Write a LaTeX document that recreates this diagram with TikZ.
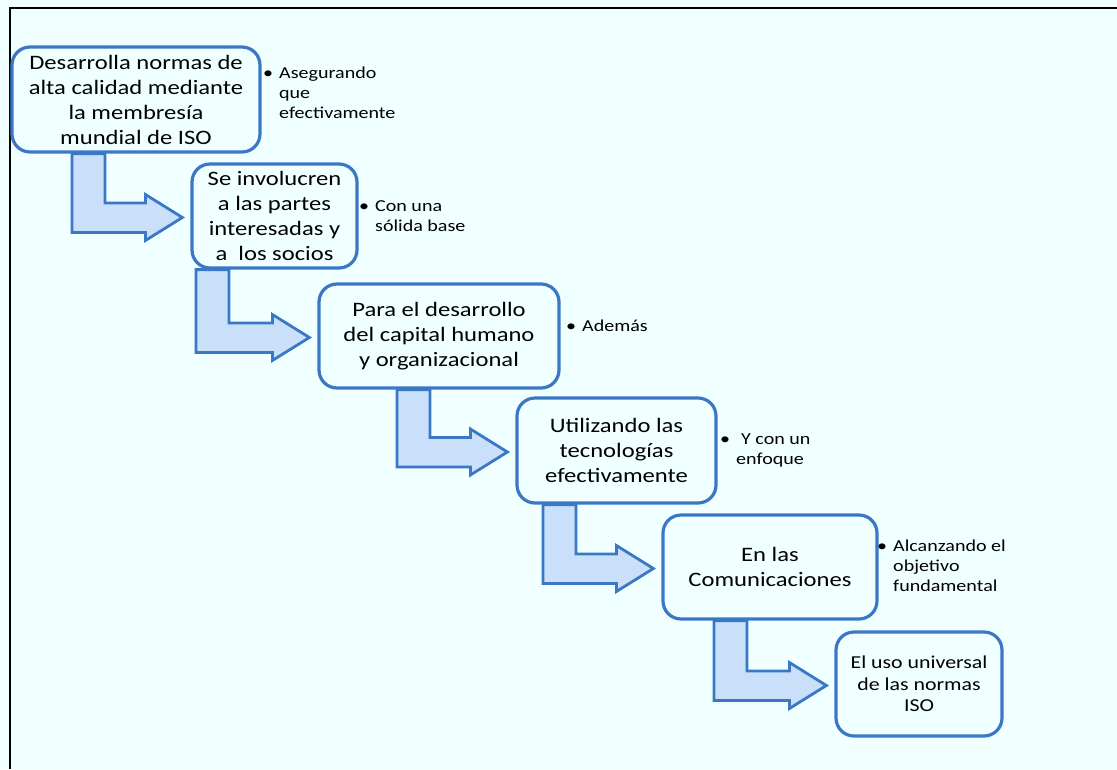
\documentclass[tikz,border=0pt]{standalone}
\usepackage{fontspec}
\setmainfont{Carlito}[FakeStretch=1.2]
\usetikzlibrary{backgrounds, calc}
\definecolor{CBack}{HTML}{F0FFFF}
\definecolor{CBlue}{HTML}{3A78C6}
\definecolor{CLight}{HTML}{C9DFFA}

\begin{document}
\begin{tikzpicture}[x=1pt, y=-1pt,
    background rectangle/.style={fill=CBack}, show background rectangle, inner frame sep=0pt,
    stepbox/.style={draw=CBlue, line width=3.2pt, fill=CBack, rounded corners=18pt, align=center,
        font=\fontsize{20.5}{25}\selectfont},
    note/.style={anchor=west, align=left, inner sep=0pt, font=\fontsize{16.7}{20}\selectfont},
    bent/.style={draw=CBlue, fill=CLight, line width=2.8pt, line join=miter}]
    \useasboundingbox (0,0) rectangle (1117,769);
    \draw[line width=2.4pt] (1117,8) -- (10,8) -- (10,769);

    % Steps
    \node[stepbox, minimum width=248pt, minimum height=105pt] (b1) at (136,99.5)
        {Desarrolla normas de\\alta calidad mediante\\la membresía\\mundial de ISO};
    \node[stepbox, minimum width=165pt, minimum height=104pt] (b2) at (274.5,216)
        {Se involucren\\a las partes\\interesadas y\\a\ \ los socios};
    \node[stepbox, minimum width=240pt, minimum height=104pt] (b3) at (439,336)
        {Para el desarrollo\\del capital humano\\y organizacional};
    \node[stepbox, minimum width=199pt, minimum height=105pt] (b4) at (616.5,450.5)
        {Utilizando las\\tecnologías\\efectivamente};
    \node[stepbox, minimum width=214pt, minimum height=104pt] (b5) at (770,567)
        {En las\\Comunicaciones};
    \node[stepbox, minimum width=166pt, minimum height=104pt, font=\fontsize{18.2}{21.5}\selectfont]
        (b6) at (919,684) {El uso universal\\de las normas\\ISO};

    % Notes
    \node[note] (n1) at (279,93) {\llap{\textbullet\hspace{6pt}}Asegurando\\que\\efectivamente};
    \node[note] (n2) at (375,216.5) {\llap{\textbullet\hspace{6pt}}Con una\\sólida base};
    \node[note] (n3) at (582,326) {\llap{\textbullet\hspace{6pt}}Además};
    \node[note] (n4) at (736,450.5) {\llap{\textbullet\hspace{6pt}}\hspace{5pt}Y con un\\enfoque};
    \node[note] (n5) at (893,566) {\llap{\textbullet\hspace{6pt}}Alcanzando el\\objetivo\\fundamental};

    % Bent arrows
    \foreach \a/\b/\sx in {b1/b2/72, b2/b3/196, b3/b4/397, b4/b5/543, b5/b6/714}
        \draw[bent] let \p1 = (\a.south), \p2 = (\b.west), \p3 = (\sx,0) in
            (\x3,\y1) -- (\x3+33pt,\y1) -- (\x3+33pt,\y2+13pt) -- (\x2-45pt,\y2+13pt)
            -- (\x2-45pt,\y2+21.5pt) -- (\x2-8pt,\y2-1.5pt) -- (\x2-45pt,\y2-24.5pt)
            -- (\x2-45pt,\y2-16.5pt) -- (\x3,\y2-16.5pt) -- cycle;
\end{tikzpicture}
\end{document}
